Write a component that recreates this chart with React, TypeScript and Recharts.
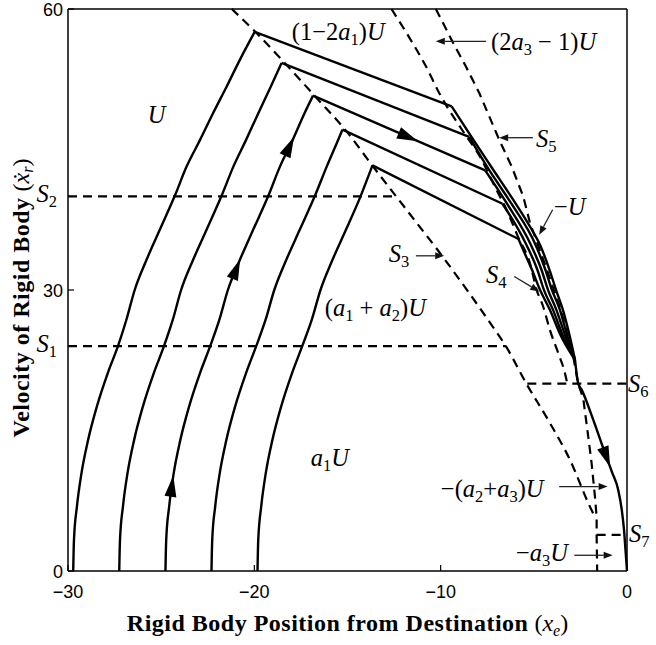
import React from "react";
import {
  ComposedChart, Line, Scatter, XAxis, YAxis, ReferenceDot, ReferenceLine,
} from "recharts";

const W = 656;
const H = 645;
const PLOT = { left: 68, right: 627, top: 9, bottom: 571 };
const X_PX = (PLOT.right - PLOT.left) / 30;
const Y_PX = (PLOT.bottom - PLOT.top) / 60;

const X_TICKS = [-30, -20, -10, 0];
const Y_TICKS = [0, 30, 60];

// ── trajectories: accelerating part (a1U, (a1+a2)U, U) ─────────────────────
const RISE_1 = [[-29.72, 0], [-29.68, 3.3], [-29.52, 6.9], [-29.28, 10.4], [-28.92, 14], [-28.46, 17.5], [-27.87, 21.1], [-27.32, 24], [-26.87, 26.8], [-26.42, 30], [-25.79, 33.2], [-25.08, 36.4], [-24.28, 40], [-23.63, 43.2], [-22.92, 46], [-22.21, 48.9], [-21.49, 51.7], [-20.77, 54.6], [-19.98, 57.55]];
const RISE_2 = [[-27.25, 0], [-27.21, 3.3], [-27.05, 6.9], [-26.81, 10.4], [-26.45, 14], [-25.99, 17.5], [-25.4, 21.1], [-24.85, 24], [-24.38, 26.8], [-23.93, 30], [-23.29, 33.2], [-22.57, 36.4], [-21.77, 40], [-21.12, 43.2], [-20.45, 46], [-19.78, 48.9], [-19.12, 51.7], [-18.54, 54.24]];
const RISE_3 = [[-24.77, 0], [-24.73, 3.3], [-24.57, 6.9], [-24.33, 10.4], [-23.97, 14], [-23.51, 17.5], [-22.92, 21.1], [-22.37, 24], [-21.88, 26.8], [-21.42, 30], [-20.78, 33.2], [-20.07, 36.4], [-19.26, 40], [-18.62, 43.2], [-17.95, 46], [-17.3, 48.9], [-16.85, 50.75]];
const RISE_4 = [[-22.3, 0], [-22.26, 3.3], [-22.1, 6.9], [-21.86, 10.4], [-21.5, 14], [-21.04, 17.5], [-20.45, 21.1], [-19.9, 24], [-19.4, 26.8], [-18.93, 30], [-18.29, 33.2], [-17.57, 36.4], [-16.76, 40], [-16.11, 43.2], [-15.55, 45.8], [-15.27, 47.12]];
const RISE_5 = [[-19.83, 0], [-19.79, 3.3], [-19.63, 6.9], [-19.39, 10.4], [-19.03, 14], [-18.57, 17.5], [-17.98, 21.1], [-17.43, 24], [-16.92, 26.8], [-16.45, 30], [-15.81, 33.2], [-15.09, 36.4], [-14.3, 40], [-13.66, 43.3]];

// (1-2a1)U segments: peak -> knee
const CRUISE_1 = [[-19.98, 57.55], [-9.41, 49.6]];
const CRUISE_2 = [[-18.54, 54.24], [-8.47, 46.34]];
const CRUISE_3 = [[-16.85, 50.75], [-7.61, 42.77]];
const CRUISE_4 = [[-15.27, 47.12], [-6.68, 39.21]];
const CRUISE_5 = [[-13.66, 43.3], [-5.82, 35.44]];

// -U segments: knee -> merge
const DESC_1 = [[-9.41, 49.6], [-8.25, 46.05], [-7.18, 42.84], [-6.11, 39.64], [-5.21, 36.78], [-4.67, 34.83], [-4.16, 32.16], [-3.81, 30.02], [-3.44, 27.88], [-3.09, 25.21], [-2.79, 22.54]];
const DESC_2 = [[-8.47, 46.34], [-7.41, 42.84], [-6.2, 39.21], [-4.91, 34.83], [-4.38, 32.16], [-4.03, 30.02], [-3.6, 27.88], [-3.22, 25.21], [-2.79, 22.54]];
const DESC_3 = [[-7.61, 42.77], [-6.44, 39.21], [-5.16, 34.83], [-4.59, 32.16], [-4.24, 30.02], [-3.79, 27.88], [-3.33, 25.21], [-2.79, 22.54]];
const DESC_4 = [[-6.68, 39.21], [-5.4, 34.83], [-4.81, 32.16], [-4.46, 30.02], [-3.97, 27.88], [-3.46, 25.21], [-2.79, 22.54]];
const DESC_5 = [[-5.82, 35.44], [-5.69, 34.83], [-5.1, 32.16], [-4.67, 30.02], [-4.14, 27.88], [-3.57, 25.21], [-2.79, 22.54]];

const TAIL = [[-2.79, 22.54], [-2.62, 20.05], [-2.43, 19.34], [-1.81, 16.13], [-1.18, 12.57], [-0.81, 10.58], [-0.47, 8.65], [-0.28, 6.52], [-0.16, 4.38], [-0.08, 2.24], [0, 0]];

// ── switching curves (dashed) ──────────────────────────────────────────────
const S3_LINE = [[-21.21, 60], [-19.71, 57.08], [-18.37, 54.24], [-16.66, 50.5], [-15.05, 46.93], [-13.63, 43.19], [-11.71, 38.25], [-9.9, 33.58], [-8.47, 29.67], [-7.21, 26.1], [-6.5, 24], [-5.4, 20], [-4.14, 15.81], [-3.06, 11.86], [-1.99, 6.87], [-1.72, 5.77]];
const S4_LINE = [[-12.64, 60], [-11.51, 56.38], [-10.79, 53.88], [-10.08, 51.04], [-8.74, 46.76], [-7.89, 44.23], [-7.09, 41.03], [-6.39, 38.25], [-5.85, 35.68], [-5.21, 32.87], [-4.85, 30.02], [-4.5, 28.24], [-4.14, 25.75], [-3.69, 23.26], [-3.33, 21.12], [-3.2, 19.98]];
const S5_LINE = [[-10.26, 60], [-9.33, 56.38], [-8.65, 53.88], [-7.93, 51.04], [-6.86, 46.05], [-6.19, 43.19], [-5.57, 39.99], [-5.21, 37.18], [-4.3, 32.16], [-3.55, 27.88], [-2.85, 22.54], [-2.62, 19.98], [-2.35, 18.45], [-2.08, 14.35], [-1.9, 11.51], [-1.72, 7.94], [-1.63, 5.8], [-1.63, 3.85], [-1.6, 0]];
const S1_LINE = [[-30, 24], [-6.5, 24]];
const S2_LINE = [[-30, 40], [-12.58, 40]];
const S6_LINE = [[-5.35, 20], [0, 20]];
const S7_LINE = [[-1.63, 3.85], [0, 3.85]];

// arrowheads on trajectories: point + direction
const ARROWS = [
  { x: -24.43, y: 9, dx: 0.24, dy: 3.5 },
  { x: -20.98, y: 32.2, dx: 0.64, dy: 3.2 },
  { x: -18.12, y: 45.3, dx: 0.67, dy: 2.8 },
  { x: -11.76, y: 46.35, dx: 9.24, dy: -7.98 },
  { x: -1.11, y: 12.2, dx: 0.37, dy: -1.99 },
];

// math labels: [text, kind] kind i=italic, r=roman, s=subscript
type Part = [string, "i" | "r" | "s"];
const LABELS: { x: number; y: number; parts: Part[] }[] = [
  { x: -25.72, y: 47.86, parts: [["U", "i"]] },
  { x: -17.99, y: 56.73, parts: [["(1−2", "r"], ["a", "i"], ["1", "s"], [")", "r"], ["U", "i"]] },
  { x: -7.3, y: 55.66, parts: [["(2", "r"], ["a", "i"], ["3", "s"], [" − 1)", "r"], ["U", "i"]] },
  { x: -4.89, y: 45.3, parts: [["S", "i"], ["5", "s"]] },
  { x: -3.92, y: 38.03, parts: [["−", "r"], ["U", "i"]] },
  { x: -12.78, y: 33.01, parts: [["S", "i"], ["3", "s"]] },
  { x: -7.57, y: 30.77, parts: [["S", "i"], ["4", "s"]] },
  { x: -16.22, y: 27.24, parts: [["(", "r"], ["a", "i"], ["1", "s"], [" + ", "r"], ["a", "i"], ["2", "s"], [")", "r"], ["U", "i"]] },
  { x: -16.97, y: 11.22, parts: [["a", "i"], ["1", "s"], ["U", "i"]] },
  { x: -31.69, y: 23.4, parts: [["S", "i"], ["1", "s"]] },
  { x: -31.69, y: 39.42, parts: [["S", "i"], ["2", "s"]] },
  { x: 0.05, y: 19.12, parts: [["S", "i"], ["6", "s"]] },
  { x: 0.11, y: 3.1, parts: [["S", "i"], ["7", "s"]] },
  { x: -9.99, y: 7.91, parts: [["−(", "r"], ["a", "i"], ["2", "s"], ["+", "r"], ["a", "i"], ["3", "s"], [")", "r"], ["U", "i"]] },
  { x: -5.96, y: 1.07, parts: [["−", "r"], ["a", "i"], ["3", "s"], ["U", "i"]] },
];

// thin pointer arrows: from -> to
const POINTERS = [
  [[-7.57, 56.55], [-10.26, 56.55]],
  [[-5.05, 46.26], [-6.86, 46.26]],
  [[-3.99, 38.57], [-4.71, 35.9]],
  [[-11.33, 33.65], [-9.81, 33.65]],
  [[-6.05, 31.44], [-4.71, 29.84]],
  [[-3.64, 9.01], [-1.04, 9.01]],
  [[-2.83, 1.68], [-0.77, 1.68]],
];

const toPts = (arr: number[][]) => arr.map(([x, y]) => ({ x, y }));

const SERIF = "'Liberation Serif', 'Times New Roman', serif";
const SANS = "'Liberation Sans', Arial, sans-serif";
const SOLID_W = 2.4;
const DASH_W = 2.2;
const DASH = "9 6";
const TICK = 6;
const MATH_SIZE = 24.5;
const SUB_SIZE = 16.5;
const SUB_DY = 5.5;

const fmt = (v: number) => (v < 0 ? `−${Math.abs(v)}` : `${v}`);

function BottomTick({ x, y, payload }: any) {
  return (
    <g>
      <line x1={x} y1={y} x2={x} y2={y - TICK} stroke="#000" strokeWidth={1.2} />
      <text x={x} y={y + 27} textAnchor="middle" fontFamily={SANS} fontSize={18} fill="#000">
        {fmt(payload.value)}
      </text>
    </g>
  );
}
function TopTick({ x, y }: any) {
  return <line x1={x} y1={y} x2={x} y2={y + TICK} stroke="#000" strokeWidth={1.2} />;
}
function LeftTick({ x, y, payload }: any) {
  return (
    <g>
      <line x1={x} y1={y} x2={x + TICK} y2={y} stroke="#000" strokeWidth={1.2} />
      <text x={x - 5} y={y + 6.5} textAnchor="end" fontFamily={SANS} fontSize={18} fill="#000">
        {fmt(payload.value)}
      </text>
    </g>
  );
}
function RightTick({ x, y }: any) {
  return <line x1={x} y1={y} x2={x - TICK} y2={y} stroke="#000" strokeWidth={1.2} />;
}

function MathText({ x, y, parts }: { x: number; y: number; parts: Part[] }) {
  let shifted = false;
  const spans = parts.map(([t, k], i) => {
    const sub = k === "s";
    let dy = 0;
    if (sub && !shifted) { dy = SUB_DY; shifted = true; }
    else if (!sub && shifted) { dy = -SUB_DY; shifted = false; }
    return (
      <tspan key={i} dy={dy || undefined} fontStyle={k === "i" ? "italic" : "normal"} fontSize={sub ? SUB_SIZE : MATH_SIZE}>
        {t}
      </tspan>
    );
  });
  return (
    <text x={x} y={y} fontFamily={SERIF} fill="#000" style={{ whiteSpace: "pre" }}>
      {spans}
    </text>
  );
}

function ArrowHead(props: any) {
  const { cx, cy } = props;
  const p = props.payload ?? props;
  const ang = (Math.atan2(-p.dy * Y_PX, p.dx * X_PX) * 180) / Math.PI;
  return (
    <polygon
      points="11,0 -10,-6 -10,6"
      transform={`translate(${cx},${cy}) rotate(${ang})`}
      fill="#000"
    />
  );
}

function Pointer(props: any) {
  const { x1, y1, x2, y2 } = props;
  const a = Math.atan2(y2 - y1, x2 - x1);
  const L = 9;
  const hw = 3.5;
  const bx = x2 - L * Math.cos(a);
  const by = y2 - L * Math.sin(a);
  const nx = -Math.sin(a) * hw;
  const ny = Math.cos(a) * hw;
  return (
    <g>
      <line x1={x1} y1={y1} x2={bx} y2={by} stroke="#222" strokeWidth={1.3} />
      <polygon points={`${x2},${y2} ${bx + nx},${by + ny} ${bx - nx},${by - ny}`} fill="#111" />
    </g>
  );
}

function XTitle({ viewBox }: any) {
  const cx = viewBox.x + viewBox.width / 2;
  const by = viewBox.y + 60;
  return (
    <text x={cx} y={by} textAnchor="middle" fontFamily={SERIF} fontSize={24} fill="#000" style={{ whiteSpace: "pre" }}>
      <tspan fontWeight="bold" letterSpacing={0.5}>Rigid Body Position from Destination</tspan>
      <tspan> (</tspan>
      <tspan fontStyle="italic">x</tspan>
      <tspan fontStyle="italic" fontSize={16} dy={5}>e</tspan>
      <tspan dy={-5}>)</tspan>
    </text>
  );
}

function YTitle({ viewBox }: any) {
  const cx = 29;
  const cy = viewBox.y + viewBox.height / 2 + 8;
  return (
    <text transform={`translate(${cx},${cy}) rotate(-90)`} textAnchor="middle" fontFamily={SERIF} fontSize={24} fill="#000" style={{ whiteSpace: "pre" }}>
      <tspan fontWeight="bold" letterSpacing={0.5}>Velocity of Rigid Body</tspan>
      <tspan> (</tspan>
      <tspan fontStyle="italic">ẋ</tspan>
      <tspan fontStyle="italic" fontSize={16} dy={4}>r</tspan>
      <tspan dy={-4}>)</tspan>
    </text>
  );
}

const solid = (key: string, arr: number[][], type: "monotone" | "linear") => (
  <Line
    key={key}
    data={toPts(arr)}
    dataKey="y"
    type={type}
    stroke="#000"
    strokeWidth={SOLID_W}
    dot={false}
    activeDot={false}
    isAnimationActive={false}
  />
);
const dashed = (key: string, arr: number[][], type: "monotone" | "linear") => (
  <Line
    key={key}
    data={toPts(arr)}
    dataKey="y"
    type={type}
    stroke="#000"
    strokeWidth={DASH_W}
    strokeDasharray={DASH}
    dot={false}
    activeDot={false}
    isAnimationActive={false}
  />
);

export default function App() {
  const rises = [RISE_1, RISE_2, RISE_3, RISE_4, RISE_5];
  const cruises = [CRUISE_1, CRUISE_2, CRUISE_3, CRUISE_4, CRUISE_5];
  const descs = [DESC_1, DESC_2, DESC_3, DESC_4, DESC_5];
  return (
    <div style={{ position: "absolute", left: 0, top: 0, width: W, height: H, background: "#fff" }}>
      <ComposedChart width={W} height={H} margin={{ top: 0, right: 0, bottom: 0, left: 0 }}>
        <XAxis
          dataKey="x"
          type="number"
          domain={[-30, 0]}
          ticks={X_TICKS}
          interval={0}
          height={H - PLOT.bottom}
          tickSize={0}
          tickMargin={0}
          tick={<BottomTick />}
          axisLine={{ stroke: "#000", strokeWidth: 1.5 }}
          label={XTitle}
        />
        <XAxis
          xAxisId="top"
          orientation="top"
          type="number"
          domain={[-30, 0]}
          ticks={X_TICKS}
          interval={0}
          height={PLOT.top}
          tickSize={0}
          tickMargin={0}
          tick={<TopTick />}
          axisLine={{ stroke: "#000", strokeWidth: 1.5 }}
        />
        <YAxis
          dataKey="y"
          type="number"
          domain={[0, 60]}
          ticks={Y_TICKS}
          interval={0}
          width={PLOT.left}
          tickSize={0}
          tickMargin={0}
          tick={<LeftTick />}
          axisLine={{ stroke: "#000", strokeWidth: 1.5 }}
          label={YTitle}
        />
        <YAxis
          yAxisId="right"
          orientation="right"
          type="number"
          domain={[0, 60]}
          ticks={Y_TICKS}
          interval={0}
          width={W - PLOT.right}
          tickSize={0}
          tickMargin={0}
          tick={<RightTick />}
          axisLine={{ stroke: "#000", strokeWidth: 1.5 }}
        />

        {dashed("s1", S1_LINE, "linear")}
        {dashed("s2", S2_LINE, "linear")}
        {dashed("s6", S6_LINE, "linear")}
        {dashed("s7", S7_LINE, "linear")}
        {dashed("s3", S3_LINE, "monotone")}
        {dashed("s4", S4_LINE, "monotone")}
        {dashed("s5", S5_LINE, "linear")}

        {rises.map((r, i) => solid(`r${i}`, r, "monotone"))}
        {cruises.map((c, i) => solid(`c${i}`, c, "linear"))}
        {descs.map((d, i) => solid(`d${i}`, d, "monotone"))}
        {solid("tail", TAIL, "monotone")}

        <Scatter data={ARROWS} dataKey="y" shape={ArrowHead} isAnimationActive={false} />

        {POINTERS.map(([a, b], i) => (
          <ReferenceLine
            key={`p${i}`}
            segment={[{ x: a[0], y: a[1] }, { x: b[0], y: b[1] }]}
            ifOverflow="visible"
            shape={Pointer}
          />
        ))}

        {LABELS.map((l, i) => (
          <ReferenceDot
            key={`l${i}`}
            x={l.x}
            y={l.y}
            ifOverflow="visible"
            shape={(p: any) => <MathText x={p.cx} y={p.cy} parts={l.parts} />}
          />
        ))}
      </ComposedChart>
    </div>
  );
}
